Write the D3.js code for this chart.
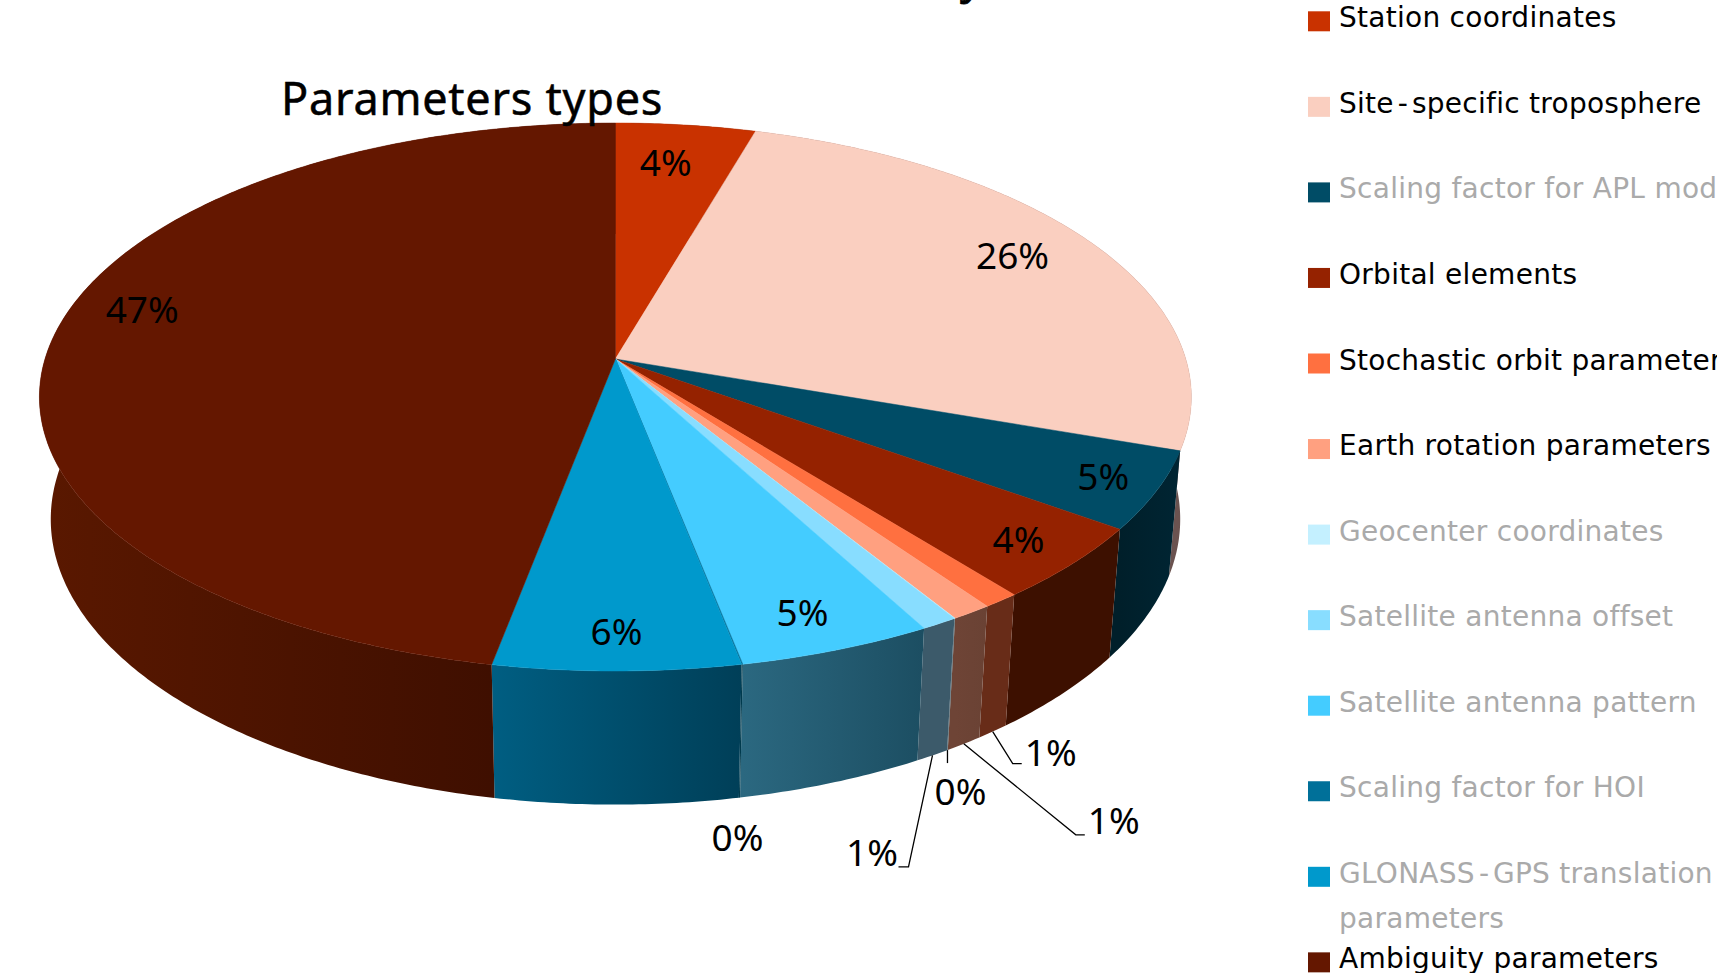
<!DOCTYPE html>
<html>
<head>
<meta charset="utf-8">
<title>Parameters types</title>
<script src="https://cdn.jsdelivr.net/npm/d3@7/dist/d3.min.js"></script>
<style>
html,body{margin:0;padding:0;background:#fff;overflow:hidden}
svg{display:block}
</style>
</head>
<body>
<svg id="chart" width="1717" height="973"></svg>
<script>
// Share of each parameter type, in percent, clockwise from twelve o'clock
const categories = ["Station coordinates","Site-specific troposphere","Scaling factor for APL model","Orbital elements","Stochastic orbit parameters","Earth rotation parameters","Geocenter coordinates","Satellite antenna offset","Satellite antenna pattern","Scaling factor for HOI","GLONASS-GPS translation parameters","Ambiguity parameters"];
const values = [4.49,25.8,4.6,4.4,0.9,1.01,0.02,0.9,4.79,0.03,6.06,47.0];
const mutedLegend = [false,false,true,false,false,false,true,true,true,true,true,false];

// Slice colours: top face, and the side wall at the start and end of each arc
const faceColors = ["#c93200","#facfc0","#004c66","#952200","#ff7040","#ffa080","#c4f0ff","#88ddff","#44ccff","#007099","#0099cc","#641700"];
const wallStart = ["#4d1300","#6b5350","#002533","#3d1000","#682c18","#6a4234","#4a6068","#3c5a6a","#1c4e62","#003a4d","#003f58","#3f0f00"];
const wallEnd   = ["#4d1300","#6b5350","#001f2a","#3d1000","#682c18","#6e4436","#4a6068","#3c5a6a","#2b6880","#003a4d","#005e82","#5a1800"];

// Inner labels sit at a radius fraction and angle nudge; null marks an outer label
const labelRadius = [0.82,0.84,0.906,0.893,null,null,null,null,0.884,null,0.89,0.872];
const labelNudge  = [-1.2,-1.5,-0.2,0.1,0,0,0,0,0.6,0,0,7.1];
// Outer labels: offsets from the lower rim to the leader's bend, its end and the text
const outerLayout = {
  4:{bend:[20,32],end:[29,32],text:[58,21]},
  5:{bend:[112,91],end:[121,91],text:[150,77]},
  6:{bend:[0,2],end:[0,13],text:[13,42]},
  7:{bend:[-24,111.5],end:[-34,111.5],text:[-60.5,97]},
  9:{text:[-2,40.5]}
};

// Perspective of the disc: the near edge is larger than the far edge
const cx = 615.4, cy = 359, k = 0.1387, ay = 268.7, bx = 570.4;
// The lower disc is the upper one taken through a homology towards a vanishing point
const vanishX = 620, vanishY = 6700, horizonY = -1578, mu = 0.923;

const project = (theta, r = 1) => {
  const u = r * Math.sin(theta), v = -r * Math.cos(theta), w = 1 - k * v;
  return [cx + bx * u / w, cy + ay * v / w];
};
const lower = ([x, y]) => {
  const m = mu * (y - vanishY) / (y - horizonY);
  const ny = (vanishY - m * horizonY) / (1 - m);
  return [vanishX + (x - vanishX) * (vanishY - ny) / (vanishY - y), ny];
};
const rimPoints = a => {
  const steps = Math.max(2, Math.ceil((a.endAngle - a.startAngle) / 0.01));
  return d3.range(steps + 1).map(s => project(a.startAngle + (a.endAngle - a.startAngle) * s / steps));
};

const svg = d3.select("#chart");
const defs = svg.append("defs");
const arcs = d3.pie().sort(null).startAngle(0).endAngle(2 * Math.PI)(values);
const line = d3.line();
const fontFace = "'Noto Sans', sans-serif";

// Side walls, shaded along the arc
const walls = svg.append("g");
arcs.forEach((a, i) => {
  const rim = rimPoints(a);
  const x0 = rim[0][0];
  const x1 = d3.greatest(rim, p => Math.abs(p[0] - x0))[0];
  const grad = defs.append("linearGradient").attr("id", "wall" + i)
    .attr("gradientUnits", "userSpaceOnUse")
    .attr("x1", x0).attr("x2", x1 === x0 ? x0 + 1 : x1).attr("y1", 0).attr("y2", 0);
  grad.append("stop").attr("offset", 0).attr("stop-color", wallStart[i]);
  grad.append("stop").attr("offset", 1).attr("stop-color", wallEnd[i]);
  walls.append("path")
    .attr("d", line([...rim, ...rim.map(lower).reverse()]) + "Z")
    .attr("fill", `url(#wall${i})`);
});

// Top faces
const faces = svg.append("g");
arcs.forEach((a, i) => {
  faces.append("path")
    .attr("d", line([[cx, cy], ...rimPoints(a)]) + "Z")
    .attr("fill", faceColors[i]).attr("stroke", faceColors[i]).attr("stroke-width", 0.5);
});

// Percentage labels and leaders
const percent = v => Math.round(v / d3.sum(values) * 100) + "%";
const labels = svg.append("g")
  .attr("font-family", fontFace).attr("font-size", 37).attr("fill", "#000")
  .attr("text-anchor", "middle");
arcs.forEach((a, i) => {
  const mid = (a.startAngle + a.endAngle) / 2;
  let pos;
  if (labelRadius[i] !== null) {
    pos = project(mid + labelNudge[i] * Math.PI / 180, labelRadius[i]);
  } else {
    const rim = lower(project(mid));
    const o = outerLayout[i];
    pos = [rim[0] + o.text[0], rim[1] + o.text[1]];
    if (o.bend) {
      svg.append("path")
        .attr("d", line([rim, [rim[0] + o.bend[0], rim[1] + o.bend[1]], [rim[0] + o.end[0], rim[1] + o.end[1]]]))
        .attr("fill", "none").attr("stroke", "#000").attr("stroke-width", 1.3);
    }
  }
  labels.append("text").attr("x", pos[0]).attr("y", pos[1]).attr("dy", "0.36em").text(percent(values[i]));
});

// Chart titles: the upper one runs off the top edge of the page
svg.append("text").attr("x", 281).attr("y", 115)
  .attr("font-family", fontFace).attr("font-size", 45).attr("fill", "#000")
  .attr("letter-spacing", 0.75).attr("stroke", "#000").attr("stroke-width", 0.5)
  .text("Parameters types");
svg.append("text").attr("x", 960).attr("y", -7)
  .attr("font-family", fontFace).attr("font-size", 45).attr("fill", "#000")
  .attr("stroke", "#000").attr("stroke-width", 0.8)
  .text("y");

// Legend
const rowStep = 85.55, rowTop = 11.3;
const legend = svg.append("g").attr("font-family", "'DejaVu Sans', sans-serif").attr("font-size", 28)
  .attr("letter-spacing", 0.27);
const legendLine = (text, y, fill) => {
  const node = legend.append("text").attr("x", 1339).attr("y", y).attr("fill", fill);
  // Hyphens get extra room on each side, as this legend sets them wide
  text.split("-").forEach((part, n) => {
    if (n > 0) node.append("tspan").attr("dx", 4).attr("letter-spacing", 4).text("-");
    node.append("tspan").text(part);
  });
};
categories.forEach((name, i) => {
  const y = rowTop + rowStep * i;
  legend.append("rect").attr("x", 1308).attr("y", y).attr("width", 22).attr("height", 20)
    .attr("fill", faceColors[i]);
  const fill = mutedLegend[i] ? "#aaaaaa" : "#000";
  if (name.startsWith("GLONASS")) {
    legendLine("GLONASS-GPS translation", y + 16, fill);
    legendLine("parameters", y + 61, fill);
  } else {
    legendLine(name, y + 16, fill);
  }
});
</script>
</body>
</html>
